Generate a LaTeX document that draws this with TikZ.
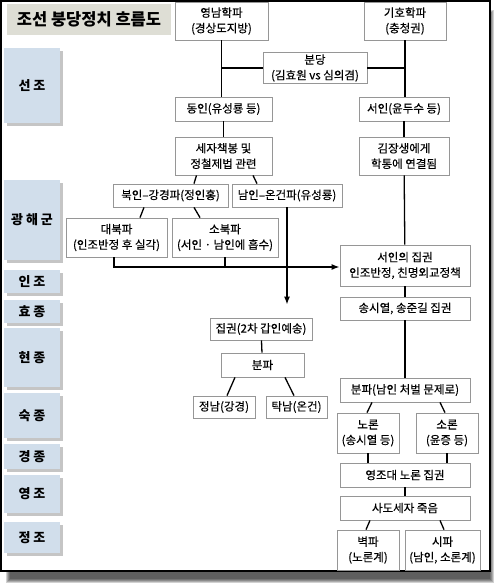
\documentclass[tikz,border=0pt]{standalone}
\usepackage{fontspec}
\setmainfont{Noto Sans CJK KR}
\newfontfamily\bodyfont[FakeBold=0.3]{Noto Sans CJK KR}
\usetikzlibrary{arrows.meta, shadows}

\definecolor{reignblue}{RGB}{209,222,235}
\definecolor{titlegray}{RGB}{222,222,213}
\definecolor{boxline}{RGB}{150,150,150}

\begin{document}
\begin{tikzpicture}[x=1pt, y=-1pt, line width=1.3pt, >={Latex[length=8pt, width=6pt]},
	main/.style = {draw=boxline, line width=0.8pt, fill=white, align=center, inner sep=0pt, font=\bodyfont\fontsize{11.5}{15.5}\selectfont},
	reign/.style = {fill=reignblue, minimum width=56pt, inner sep=0pt, font=\fontsize{13}{15}\selectfont\bfseries, drop shadow={shadow xshift=2.5pt, shadow yshift=-2.5pt, opacity=0.45}}]

		\useasboundingbox (0,0) rectangle (494,584);
		\foreach \i in {0,...,4}
			\fill[black, opacity=0.18] (6+\i,10+\i) rectangle (494-\i,583-\i);
		\draw[fill=white, line width=1.8pt] (1,1) rectangle (490,571);

		\node[fill=titlegray, minimum width=164pt, minimum height=31pt, font=\fontsize{16.5}{18}\selectfont\bfseries] (0) at (89,19.5) {조선 붕당정치 흐름도};

		\node[reign, minimum height=75pt] (r1) at (32,85.5) {선 조};
		\node[reign, minimum height=80pt] (r2) at (32,220) {광 해 군};
		\node[reign, minimum height=23pt] (r3) at (32,281.5) {인 조};
		\node[reign, minimum height=23pt] (r4) at (32,311.5) {효 종};
		\node[reign, minimum height=59pt] (r5) at (32,357.5) {현 종};
		\node[reign, minimum height=45pt] (r6) at (32,415.5) {숙 종};
		\node[reign, minimum height=25pt] (r7) at (32,456.5) {경 종};
		\node[reign, minimum height=38pt] (r8) at (32,494) {영 조};
		\node[reign, minimum height=31pt] (r9) at (32,537.5) {정 조};

		\node[main, minimum width=93pt, minimum height=38pt] (1) at (221.5,21) {영남학파\\(경상도지방)};
		\node[main, minimum width=82pt, minimum height=38pt] (2) at (405,21) {기호학파\\(충청권)};
		\node[main, minimum width=104pt, minimum height=31pt] (3) at (315,68) {분당\\(김효원 vs 심의겸)};
		\node[main, minimum width=97pt, minimum height=24pt] (4) at (223.5,109) {동인(유성룡 등)};
		\node[main, minimum width=90pt, minimum height=24pt] (5) at (404,109) {서인(윤두수 등)};
		\node[main, minimum width=97pt, minimum height=38pt] (6) at (223.5,156) {세자책봉 및\\정철제법 관련};
		\node[main, minimum width=90pt, minimum height=38pt] (7) at (404,156) {김장생에게\\학통에 연결됨};
		\node[main, minimum width=115pt, minimum height=23pt] (8) at (170.5,195.5) {북인–강경파(정인홍)};
		\node[main, minimum width=110pt, minimum height=23pt] (9) at (287,195.5) {남인–온건파(유성룡)};
		\node[main, minimum width=101pt, minimum height=39pt] (10) at (116.5,237.5) {대북파\\(인조반정 후 실각)};
		\node[main, minimum width=106pt, minimum height=39pt] (11) at (225,237.5) {소북파\\(서인 · 남인에 흡수)};
		\node[main, minimum width=130pt, minimum height=41pt] (12) at (405,265.5) {서인의 집권\\인조반정, 친명외교정책};
		\node[main, minimum width=130pt, minimum height=23pt] (13) at (405,308.5) {송시열, 송준길 집권};
		\node[main, minimum width=102pt, minimum height=22pt] (14) at (261,329) {집권(2차 갑인예송)};
		\node[main, minimum width=83pt, minimum height=24pt] (15) at (262.5,365) {분파};
		\node[main, minimum width=62pt, minimum height=22pt] (16) at (224,407) {정남(강경)};
		\node[main, minimum width=61pt, minimum height=22pt] (17) at (296.5,407) {탁남(온건)};
		\node[main, minimum width=130pt, minimum height=24pt] (18) at (405,390) {분파(남인 처벌 문제로)};
		\node[main, minimum width=62pt, minimum height=40pt] (19) at (368,433) {노론\\(송시열 등)};
		\node[main, minimum width=62pt, minimum height=40pt] (20) at (447,433) {소론\\(윤증 등)};
		\node[main, minimum width=130pt, minimum height=24pt] (21) at (405,475) {영조대 노론 집권};
		\node[main, minimum width=130pt, minimum height=24pt] (22) at (405,508) {사도세자 죽음};
		\node[main, minimum width=62pt, minimum height=40pt] (23) at (368,550) {벽파\\(노론계)};
		\node[main, minimum width=75pt, minimum height=40pt] (24) at (442.5,550) {시파\\(남인, 소론계)};
		\coordinate (j) at ([yshift=-1.5pt]12.west);

		\draw (1.south) -- (1.south |- 4.north);
		\draw (3.west) -- (3.west -| 1.south);
		\draw (3.east) -- (3.east -| 2.south);
		\draw (2.south) -- (2.south |- 5.north);
		\draw (4) -- (6);
		\draw (5) -- (7);
		\draw (7) -- (12);
		\draw ([xshift=-27pt]6.south) -- ([xshift=23.5pt]8.north);
		\draw ([xshift=29.5pt]6.south) -- ([xshift=-30pt]9.north);
		\draw ([xshift=-26.5pt]8.south) -- ([xshift=23.5pt]10.north);
		\draw ([xshift=23.5pt]8.south) -- ([xshift=-25pt]11.north);
		\draw[->] ([xshift=-2.5pt]10.south) |- (j);
		\draw (11.south) -- (11.south |- j);
		\draw[->, shorten >=13pt] (9.south) -- (9.south |- 14.north);
		\draw (12) -- (13);
		\draw (13) -- (18);
		\draw (14) -- (15);
		\draw ([xshift=-27.5pt]15.south) -- ([xshift=3pt]16.north);
		\draw ([xshift=22.5pt]15.south) -- ([xshift=-2.5pt]17.north);
		\draw ([xshift=-33pt]18.south) -- ([xshift=-1pt]19.north);
		\draw ([xshift=35pt]18.south) -- ([xshift=-2pt]20.north);
		\draw (19.south) -- (19.south |- 21.north);
		\draw (20.south) -- (20.south |- 21.north);
		\draw (21) -- (22);
		\draw ([xshift=-35pt]22.south) -- ([xshift=-2pt]23.north);
		\draw ([xshift=35pt]22.south) -- ([xshift=1.5pt]24.north);

	\end{tikzpicture}
\end{document}
